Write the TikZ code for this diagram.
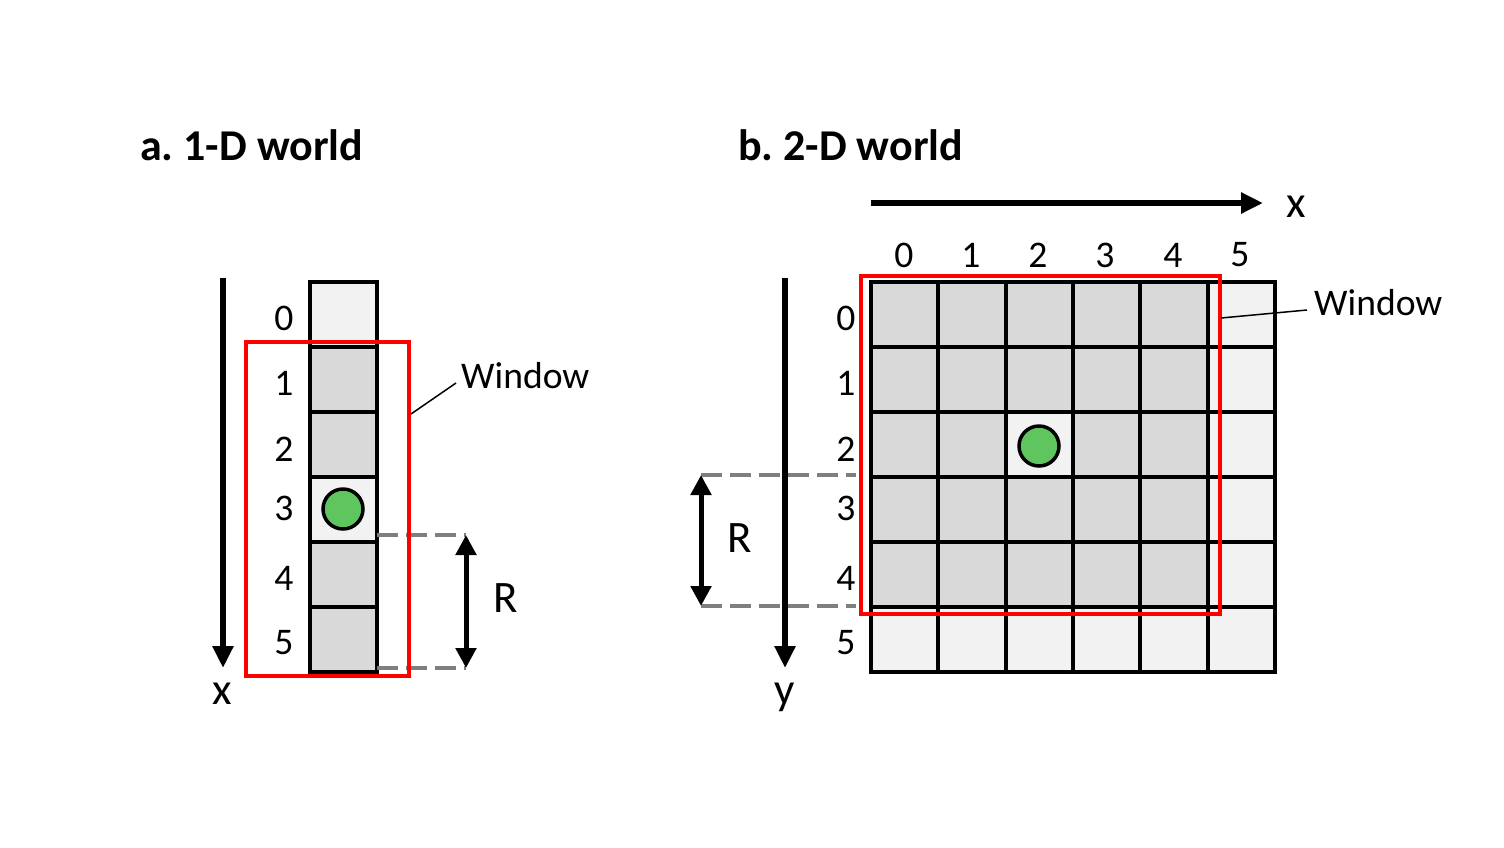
\documentclass[tikz,border=0pt]{standalone}
\usepackage{fontspec}
\setmainfont{Carlito}
\usetikzlibrary{arrows.meta}
\frenchspacing
\definecolor{cellL}{HTML}{F2F2F2}
\definecolor{cellD}{HTML}{D9D9D9}
\definecolor{ballG}{HTML}{5FC65F}
\definecolor{dashG}{HTML}{7F7F7F}
\definecolor{winR}{HTML}{FF0000}
\tikzset{
  gridline/.style={line width=4pt, black},
  window/.style={line width=3.2pt, winR},
  axisarrow/.style={line width=5.5pt, -{Triangle[length=22pt,width=20pt]}},
  rarrow/.style={line width=5pt, {Triangle[length=20pt,width=20pt]}-{Triangle[length=20pt,width=20pt]}},
  dashline/.style={line width=3.5pt, dashG, dash pattern=on 21pt off 8pt},
  leader/.style={line width=1.5pt, black},
  ball/.style={circle, draw=black, line width=3.5pt, fill=ballG, minimum size=40pt, inner sep=0pt},
  title/.style={font=\fontsize{44}{52}\selectfont\bfseries, anchor=base west, inner sep=0pt},
  num/.style={font=\fontsize{37.6}{44}\selectfont, inner sep=0pt},
  lbl/.style={font=\fontsize{37.6}{44}\selectfont, anchor=west, inner sep=0pt},
  axl/.style={font=\fontsize{45}{52}\selectfont, anchor=base, inner sep=0pt},
}
\begin{document}
\begin{tikzpicture}[x=1pt,y=-1pt]
\useasboundingbox (0,0) rectangle (1504,847);

% ---------- titles ----------
\node[title] (ta) at (140,160) {a. 1-D world};
\node[title] (tb) at (738,160) {b. 2-D world};

% ---------- 1-D world ----------
\fill[cellL] (310,282) rectangle (377,672);
\fill[cellD] (310,347) rectangle (377,477);
\fill[cellD] (310,542) rectangle (377,672);
\draw[gridline] (310,282) rectangle (377,672);
\foreach \yy in {347,412,477,542,607} \draw[gridline] (310,\yy) -- (377,\yy);
\node[ball] (ball1) at (343,509) {};

% dashed R lines
\coordinate (d1a) at (377,535);
\coordinate (d1b) at (466,535);
\coordinate (d2a) at (377,668);
\coordinate (d2b) at (466,668);
\draw[dashline] (d1a) -- (d1b);
\draw[dashline] (d2a) -- (d2b);
\draw[rarrow] (d1b) -- (d2b);
\node[axl] (R1) at (506,612) {R};

% window
\draw[window] (246,342) rectangle (409,676);
\coordinate (w1a) at (411,414);
\coordinate (w1b) at (456,383);
\draw[leader] (w1a) -- (w1b);
\node[lbl] (win1) at (461,376) {Window};

% axis
\coordinate (ax1s) at (223,278);
\coordinate (ax1e) at (223,668);
\draw[axisarrow] (ax1s) -- (ax1e);
\node[axl] (x1) at (222,704) {x};

% numbers
\node[num] (n10) at (284,318) {0};
\node[num] (n11) at (284,383) {1};
\node[num] (n12) at (284,449) {2};
\node[num] (n13) at (284,508) {3};
\node[num] (n14) at (284,578) {4};
\node[num] (n15) at (284,643) {5};

% ---------- 2-D world ----------
\fill[cellL] (871,282) rectangle (1275,672);
\foreach \i in {0,...,4}
  \foreach \j in {0,...,4}
    {\pgfmathsetmacro{\xa}{871+67.33*\i}\pgfmathsetmacro{\xb}{871+67.33*(\i+1)}
     \pgfmathsetmacro{\ya}{282+65*\j}\pgfmathsetmacro{\yb}{282+65*(\j+1)}
     \fill[cellD] (\xa,\ya) rectangle (\xb,\yb);}
\fill[cellL] (1005.66,412) rectangle (1073,477);
\draw[gridline] (871,282) rectangle (1275,672);
\foreach \i in {1,...,5} {\pgfmathsetmacro{\xa}{871+67.33*\i}\draw[gridline] (\xa,282) -- (\xa,672);}
\foreach \j in {1,...,5} {\pgfmathsetmacro{\ya}{282+65*\j}\draw[gridline] (871,\ya) -- (1275,\ya);}
\node[ball] (ball2) at (1039,446) {};

% window
\draw[window] (861,276) rectangle (1220,614);
\coordinate (w2a) at (1221,318);
\coordinate (w2b) at (1307,310);
\draw[leader] (w2a) -- (w2b);
\node[lbl] (win2) at (1314,303) {Window};

% dashed R lines
\coordinate (e1a) at (701,475);
\coordinate (e1b) at (856,475);
\coordinate (e2a) at (701,606);
\coordinate (e2b) at (856,606);
\draw[dashline] (e1a) -- (e1b);
\draw[dashline] (e2a) -- (e2b);
\draw[rarrow] (e1a) -- (e2a);
\node[axl] (R2) at (740,552) {R};

% axes
\coordinate (ax2s) at (785,278);
\coordinate (ax2e) at (785,668);
\draw[axisarrow] (ax2s) -- (ax2e);
\node[axl] (y2) at (785,704) {y};
\coordinate (ax3s) at (871,203);
\coordinate (ax3e) at (1263,203);
\draw[axisarrow] (ax3s) -- (ax3e);
\node[axl] (x2) at (1296,217) {x};

% row numbers
\node[num] (n20) at (846,318) {0};
\node[num] (n21) at (846,383) {1};
\node[num] (n22) at (846,449) {2};
\node[num] (n23) at (846,508) {3};
\node[num] (n24) at (846,578) {4};
\node[num] (n25) at (846,643) {5};
% column numbers
\node[num] (c0) at (904,255) {0};
\node[num] (c1) at (971,255) {1};
\node[num] (c2) at (1038,255) {2};
\node[num] (c3) at (1105,255) {3};
\node[num] (c4) at (1173,255) {4};
\node[num] (c5) at (1240,255) {5};
\end{tikzpicture}
\end{document}
